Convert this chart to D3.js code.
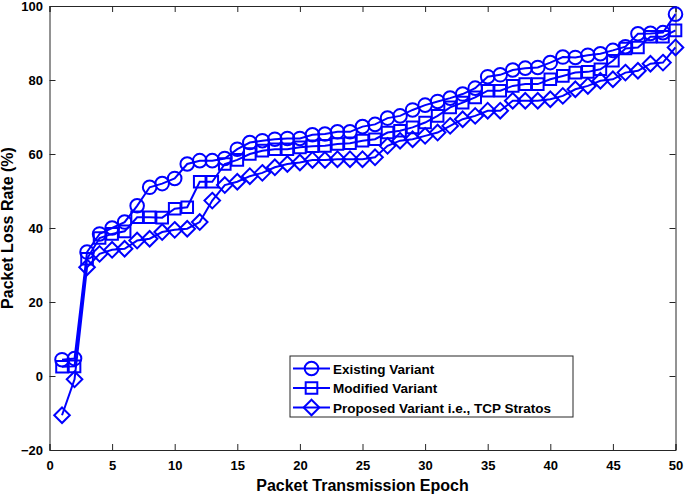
<!DOCTYPE html>
<html>
<head>
<meta charset="utf-8">
<script src="https://cdn.jsdelivr.net/npm/d3@7"></script>
<style>
  body { margin: 0; background: #fff; }
  text { font-family: "Liberation Sans", Arial, sans-serif; font-weight: bold; }
</style>
</head>
<body>
<svg width="685" height="495"></svg>
<script>
// Values, one per epoch (1..50)
const epochs = d3.range(1, 51);
const existing = [4.4, 4.7, 33.5, 38.4, 40, 41.6, 46, 51, 52, 53.4,
  57.3, 58.2, 58.2, 58.8, 61.3, 63.1, 63.6, 64, 64.2, 64.2,
  65.2, 65.4, 66, 66, 67.4, 68, 69.7, 70.3, 71.9, 73.2,
  74.2, 75.1, 76.2, 77.8, 80.9, 81.4, 82.7, 83.2, 83.4, 84.7,
  86.2, 86.1, 86.7, 87.1, 88, 89, 92.5, 92.6, 92.8, 97.8];
const modified = [2.5, 2.6, 31.7, 37.3, 38.4, 39.1, 42.9, 42.9, 42.8, 45.2,
  45.6, 52.5, 52.5, 57.3, 58.4, 60, 60.9, 61.3, 61.3, 61.8,
  62.1, 62.2, 62.7, 62.9, 63.6, 64, 65.8, 66.3, 67.2, 68.5,
  70.3, 72.6, 73.9, 75.3, 77.1, 77.1, 78.4, 78.9, 78.9, 80.2,
  81.1, 82, 82.2, 82.9, 85.2, 88.5, 88.8, 91.7, 91.7, 93.4];
const proposed = [-10.6, -0.9, 29.4, 33, 34.1, 34.4, 36.6, 37.1, 38.9, 39.5,
  39.8, 41.6, 47.4, 51.6, 52.5, 54, 54.9, 56.4, 57.3, 57.7,
  58.4, 58.4, 58.6, 58.6, 58.6, 59.1, 62.2, 63.6, 64, 64.9,
  65.8, 67.6, 69.4, 70.3, 71.7, 71.7, 74.4, 74.4, 74.4, 74.8,
  75.7, 77.5, 78.4, 79.8, 80.2, 82, 82.5, 84.4, 84.7, 88.8];
const seriesNames = ["Existing Variant", "Modified Variant", "Proposed Variant i.e., TCP Stratos"];
const xTicks = [0, 5, 10, 15, 20, 25, 30, 35, 40, 45, 50];
const yTicks = [-20, 0, 20, 40, 60, 80, 100];

const blue = '#0000ff';
const margin = { top: 6, right: 9.5, bottom: 45, left: 49.5 };
const width = 685 - margin.left - margin.right;
const height = 495 - margin.top - margin.bottom;
const tickLen = 6;

const x = d3.scaleLinear().domain([0, 50]).range([0, width]);
const y = d3.scaleLinear().domain([-20, 100]).range([height, 0]);

const svg = d3.select('svg')
  .append('g')
  .attr('transform', `translate(${margin.left}, ${margin.top})`);

// axes with inward ticks, box on all four sides
svg.append('g')
  .attr('transform', `translate(0, ${height})`)
  .call(d3.axisBottom(x).tickValues(xTicks).tickSize(-tickLen).tickPadding(11))
  .call(g => g.selectAll('text').attr('font-size', 13).attr('fill', '#000'));
svg.append('g')
  .call(d3.axisTop(x).tickValues(xTicks).tickSize(-tickLen).tickFormat(''));
svg.append('g')
  .call(d3.axisLeft(y).tickValues(yTicks).tickSize(-tickLen).tickPadding(6.5))
  .call(g => g.selectAll('text').attr('font-size', 13).attr('fill', '#000'));
svg.append('g')
  .attr('transform', `translate(${width}, 0)`)
  .call(d3.axisRight(y).tickValues(yTicks).tickSize(-tickLen).tickFormat(''));
svg.selectAll('.domain').attr('stroke', '#262626').attr('stroke-width', 1);
svg.selectAll('.tick line').attr('stroke', '#262626');

// axis titles
svg.append('text')
  .attr('x', width / 2).attr('y', height + 41)
  .attr('text-anchor', 'middle').attr('font-size', 16)
  .text('Packet Transmission Epoch');
svg.append('text')
  .attr('transform', `translate(${-37}, ${height / 2}) rotate(-90)`)
  .attr('text-anchor', 'middle').attr('font-size', 16)
  .text('Packet Loss Rate (%)');

// marker shapes: circle, square, diamond
const diamond = (s) => `M0,${-s}L${s},0L0,${s}L${-s},0Z`;
const markerPaths = [
  d3.symbol().type(d3.symbolCircle).size(145)(),
  d3.symbol().type(d3.symbolSquare).size(135)(),
  diamond(7.8)
];

const line = d3.line().x((d, i) => x(epochs[i])).y(d => y(d));
const allSeries = [existing, modified, proposed];

allSeries.forEach((vals, si) => {
  const g = svg.append('g').attr('class', 'series');
  g.append('path')
    .datum(vals)
    .attr('d', line)
    .attr('fill', 'none')
    .attr('stroke', blue)
    .attr('stroke-width', 2);
  g.selectAll('path.mk')
    .data(vals)
    .enter().append('path')
    .attr('class', 'mk')
    .attr('transform', (d, i) => `translate(${x(epochs[i])}, ${y(d)})`)
    .attr('d', markerPaths[si])
    .attr('fill', 'none')
    .attr('stroke', blue)
    .attr('stroke-width', 2);
});

// legend
const legend = svg.append('g')
  .attr('transform', `translate(${290 - margin.left}, ${356 - margin.top})`);
legend.append('rect')
  .attr('width', 283).attr('height', 61)
  .attr('fill', '#fff').attr('stroke', '#262626').attr('stroke-width', 1);
seriesNames.forEach((name, i) => {
  const ly = 12.5 + i * 19.5;
  legend.append('line')
    .attr('x1', 3).attr('x2', 40).attr('y1', ly).attr('y2', ly)
    .attr('stroke', blue).attr('stroke-width', 2);
  legend.append('path')
    .attr('transform', `translate(21.5, ${ly})`)
    .attr('d', markerPaths[i])
    .attr('fill', 'none').attr('stroke', blue).attr('stroke-width', 2);
  legend.append('text')
    .attr('x', 43).attr('y', ly + 5)
    .attr('font-size', 13.5)
    .text(name);
});
</script>
</body>
</html>
